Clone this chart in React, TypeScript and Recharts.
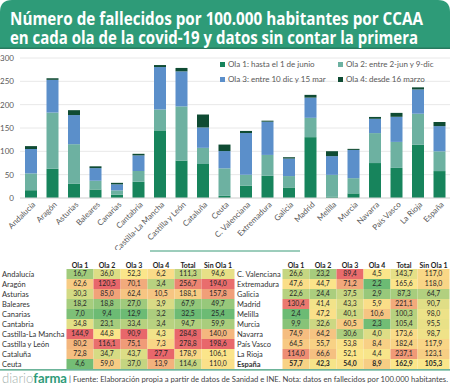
import { BarChart, Bar, XAxis, YAxis, CartesianGrid, Legend } from 'recharts';

const REGIONES = [
  'Andalucía', 'Aragón', 'Asturias', 'Baleares', 'Canarias', 'Cantabria', 'Castilla-La Mancha',
  'Castilla y León', 'Cataluña', 'Ceuta', 'C. Valenciana', 'Extremadura', 'Galicia', 'Madrid',
  'Melilla', 'Murcia', 'Navarra', 'País Vasco', 'La Rioja', 'España',
];
const OLA1 = [16.7, 62.6, 30.3, 18.2, 7.0, 34.8, 144.9, 80.2, 72.8, 4.6, 26.6, 47.6, 22.6, 130.4, 2.4, 9.9, 74.9, 64.5, 114.0, 57.7];
const OLA2 = [36.0, 120.5, 85.0, 18.8, 9.4, 23.1, 44.8, 116.1, 34.7, 59.0, 23.2, 44.7, 24.4, 41.4, 47.2, 32.6, 64.2, 55.7, 66.6, 42.3];
const OLA3 = [52.3, 70.1, 62.4, 27.0, 12.9, 33.4, 90.9, 75.1, 43.7, 37.0, 89.4, 71.2, 37.5, 43.3, 40.1, 60.5, 30.6, 53.8, 52.1, 54.0];
const OLA4 = [6.2, 3.4, 10.5, 3.9, 3.2, 3.4, 4.3, 7.3, 27.7, 13.9, 4.5, 2.2, 2.9, 5.9, 10.6, 2.3, 4.0, 8.4, 4.4, 8.9];
const TOTAL = [111.3, 256.7, 188.1, 67.9, 32.5, 94.7, 284.8, 278.8, 178.9, 114.6, 143.7, 165.6, 87.3, 221.1, 100.3, 105.4, 173.6, 182.4, 237.1, 162.9];
const SIN_OLA1 = [94.6, 194.0, 157.8, 49.7, 25.4, 59.9, 140.0, 198.6, 106.1, 110.0, 117.0, 118.0, 64.7, 90.7, 98.0, 95.5, 98.7, 117.9, 123.1, 105.3];
const Y_TICKS = [0, 50, 100, 150, 200, 250, 300];
const COLUMNAS = ['Ola 1', 'Ola 2', 'Ola 3', 'Ola 4', 'Total', 'Sin Ola 1'];

const SERIES = [
  { key: 'ola1', name: 'Ola 1: hasta el 1 de junio', color: '#17845c' },
  { key: 'ola2', name: 'Ola 2: entre 2-jun y 9-dic', color: '#6db1a1' },
  { key: 'ola3', name: 'Ola 3: entre 10 dic y 15 mar', color: '#5b8fca' },
  { key: 'ola4', name: 'Ola 4: desde 16 marzo', color: '#0f4b33' },
];

const VERDE = '#2e9b78';
const FONT = 'Lato, sans-serif';

const data = REGIONES.map((region, i) => ({
  region,
  ola1: OLA1[i],
  ola2: OLA2[i],
  ola3: OLA3[i],
  ola4: OLA4[i],
}));

const COLS = [OLA1, OLA2, OLA3, OLA4, TOTAL, SIN_OLA1];

const rgb = (h: string) => [1, 3, 5].map((k) => parseInt(h.slice(k, k + 2), 16));
const mix = (a: string, b: string, t: number) => {
  const x = rgb(a);
  const y = rgb(b);
  return `rgb(${x.map((v, k) => Math.round(v + (y[k] - v) * t)).join(',')})`;
};

// escala de 3 colores como el formato condicional de Excel (min, percentil 50, max)
function escala(vals: number[]) {
  const s = [...vals].sort((a, b) => a - b);
  const min = s[0];
  const max = s[s.length - 1];
  const n = s.length;
  const mid = n % 2 ? s[(n - 1) / 2] : (s[n / 2 - 1] + s[n / 2]) / 2;
  return (v: number) =>
    v <= mid
      ? mix('#6cbb74', '#fbe68a', (v - min) / (mid - min))
      : mix('#fbe68a', '#e8676b', (v - mid) / (max - mid));
}
const ESCALAS = COLS.map(escala);

const fmt = (v: number) => v.toFixed(1).replace('.', ',');

const XTick = ({ x, y, payload }: any) => (
  <text
    x={x + 3}
    y={y}
    transform={`rotate(-45 ${x + 3} ${y})`}
    textAnchor="end"
    dy={3}
    fontSize={8}
    fill="#595959"
    fontFamily={FONT}
  >
    {payload.value}
  </text>
);

const LEG_POS = [
  { left: 2, top: 0 },
  { left: 120, top: 0 },
  { left: 2, top: 15 },
  { left: 120, top: 15 },
];

const renderLegend = () => (
  <div style={{ position: 'relative', width: 232, height: 28, fontFamily: FONT }}>
    {SERIES.map((s, i) => (
      <div
        key={s.key}
        style={{
          position: 'absolute',
          left: LEG_POS[i].left,
          top: LEG_POS[i].top,
          display: 'flex',
          alignItems: 'center',
          fontSize: 8,
          color: '#595959',
          whiteSpace: 'nowrap',
        }}
      >
        <span style={{ width: 5, height: 5, background: s.color, marginRight: 3, display: 'inline-block' }} />
        {s.name}
      </div>
    ))}
  </div>
);

function Tabla({ filas, nameX, cx, w }: { filas: number[]; nameX: number; cx: number[]; w: number[] }) {
  return (
    <g fontFamily={FONT}>
      {COLUMNAS.map((c, j) => (
        <text key={c} x={cx[j]} y={267.5} textAnchor="middle" fontSize={7} fontWeight="bold" fill="#222">
          {c}
        </text>
      ))}
      {filas.map((r, i) => {
        const yc = 274 + i * 10;
        const bold = REGIONES[r] === 'España';
        return (
          <g key={r}>
            <text x={nameX} y={yc + 2.6} fontSize={7.5} fill="#333" fontWeight={bold ? 'bold' : 'normal'}>
              {REGIONES[r]}
            </text>
            {COLS.map((col, j) => (
              <g key={j}>
                <rect x={cx[j] - w[j] / 2} y={yc - 5} width={w[j]} height={10} fill={ESCALAS[j](col[r])} />
                <text
                  x={cx[j]}
                  y={yc + 2.4}
                  textAnchor="middle"
                  fontSize={6.8}
                  fill="#262626"
                  fontWeight={bold ? 'bold' : 'normal'}
                >
                  {fmt(col[r])}
                </text>
              </g>
            ))}
          </g>
        );
      })}
    </g>
  );
}

export default function App() {
  return (
    <div style={{ position: 'absolute', left: 0, top: 0, width: 450, height: 387, background: '#fff', overflow: 'hidden' }}>
      <svg width={450} height={387} style={{ position: 'absolute', left: 0, top: 0 }}>
        <path d="M0,12 Q0,0 12,0 L438,0 Q450,0 450,12 L450,49 L0,49 Z" fill={VERDE} />
        <rect x={0} y={47.5} width={450} height={1.5} fill="#287a5f" />
        <text x={10} y={24.5} fontFamily="'Open Sans', sans-serif" fontWeight="bold" fontSize={18} fill="#fff" textLength={413} lengthAdjust="spacingAndGlyphs">
          Número de fallecidos por 100.000 habitantes por CCAA
        </text>
        <text x={10} y={44} fontFamily="'Open Sans', sans-serif" fontWeight="bold" fontSize={18} fill="#fff" textLength={408} lengthAdjust="spacingAndGlyphs">
          en cada ola de la covid-19 y datos sin contar la primera
        </text>

        <line x1={150} x2={300} y1={251} y2={251} stroke="#3b9b79" strokeWidth={1} />

        <Tabla filas={[0, 1, 2, 3, 4, 5, 6, 7, 8, 9]} nameX={2} cx={[80, 107, 134, 161, 188, 218]} w={[27, 27, 27, 27, 27, 33]} />
        <Tabla filas={[10, 11, 12, 13, 14, 15, 16, 17, 18, 19]} nameX={237} cx={[296, 323, 350, 377, 404, 433.5]} w={[27, 27, 27, 27, 27, 32]} />

        <line x1={0} x2={450} y1={369.8} y2={369.8} stroke="#3b9b79" strokeWidth={1.3} />
        <text x={2} y={383} fontFamily={FONT} fontSize={13} textLength={65} lengthAdjust="spacingAndGlyphs">
          <tspan fill="#a3b1ab" fontWeight={300}>diario</tspan>
          <tspan fill={VERDE} fontWeight="bold">farma</tspan>
        </text>
        <text x={69} y={382} fontFamily={FONT} fontSize={7} fill="#444" textLength={379} lengthAdjust="spacingAndGlyphs">
          | Fuente: Elaboración propia a partir de datos de Sanidad e INE. Nota: datos en fallecidos por 100.000 habitantes.
        </text>
      </svg>

      <div style={{ position: 'absolute', left: 0, top: 48 }}>
        <BarChart width={450} height={202} data={data} margin={{ top: 10, right: 0, left: 0, bottom: 0 }}>
          <CartesianGrid vertical={false} stroke="#e8e8e8" />
          <XAxis
            dataKey="region"
            interval={0}
            height={52}
            tick={<XTick />}
            tickLine={false}
            tickSize={3}
            tickMargin={2}
            axisLine={{ stroke: '#d9d9d9' }}
          />
          <YAxis
            width={20}
            domain={[0, 300]}
            ticks={Y_TICKS}
            axisLine={false}
            tickLine={false}
            tickSize={4}
            tickMargin={2}
            tick={{ fontSize: 8, fill: '#595959', fontFamily: FONT }}
          />
          <Legend
            layout="vertical"
            align="center"
            verticalAlign="middle"
            content={renderLegend}
            wrapperStyle={{ left: 218, top: 11, width: 232 }}
          />
          {SERIES.map((s) => (
            <Bar key={s.key} dataKey={s.key} name={s.name} stackId="a" fill={s.color} barSize={12} isAnimationActive={false} />
          ))}
        </BarChart>
      </div>
    </div>
  );
}
